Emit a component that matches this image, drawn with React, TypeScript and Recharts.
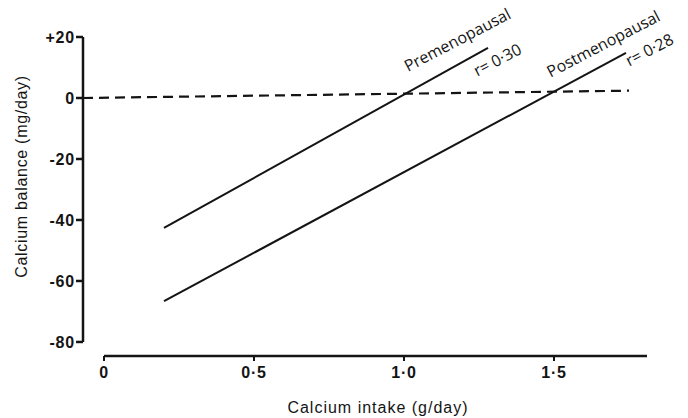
import React from "react";
import {
  LineChart,
  Line,
  XAxis,
  YAxis,
  ReferenceLine,
} from "recharts";

// calcium intake (g/day) vs balance (mg/day), regression lines
const premenoX = [0.2, 1.28];
const premenoY = [-42.6, 16.4];
const postmenoX = [0.2, 1.74];
const postmenoY = [-66.6, 14.8];
const zeroX = [-0.07, 1.75];
const zeroY = [0, 2.4];

const xTicks = [0, 0.5, 1, 1.5];
const xTickLabels = ["0", "0·5", "1·0", "1·5"];
const yTicks = [-80, -60, -40, -20, 0, 20];
const yTickLabels = ["-80", "-60", "-40", "-20", "0", "+20"];

const X_MIN = -0.07;
const X_MAX = 1.81;
const Y_MIN = -84.6;
const Y_MAX = 20;

const toPoints = (xs: number[], ys: number[]) => xs.map((x, i) => ({ x, y: ys[i] }));

const INK = "#141414";
const SANS = "Liberation Sans, Arial, sans-serif";
const tickFont = { fontSize: 16, fill: INK, fontWeight: 700, fontFamily: SANS, letterSpacing: 0.8 };
const noteFont = { fontSize: 16, fill: INK, fontFamily: "Open Sans, sans-serif" };
const titleFont = { fontSize: 16, fill: INK, fontFamily: SANS };

function endLabel(name: string, r: string, nameOff: [number, number], rOff: [number, number], last: number) {
  return (props: any) => {
    const { x, y, index } = props;
    if (index !== last) return <g />;
    const nx = x + nameOff[0];
    const ny = y + nameOff[1];
    const rx = x + rOff[0];
    const ry = y + rOff[1];
    return (
      <g>
        <text x={nx} y={ny} textAnchor="middle" transform={`rotate(-27.5 ${nx} ${ny})`} {...noteFont}>
          {name}
        </text>
        <text x={rx} y={ry} textAnchor="middle" transform={`rotate(-27.5 ${rx} ${ry})`} {...noteFont}>
          {r}
        </text>
      </g>
    );
  };
}

const xTitle = (p: any) => {
  const vb = p.viewBox;
  const cx = vb.x + vb.width / 2 + 13;
  const by = vb.y + vb.height + 27;
  return (
    <text x={cx} y={by} textAnchor="middle" letterSpacing={1} {...titleFont}>
      Calcium intake (g/day)
    </text>
  );
};

const yTitle = (p: any) => {
  const vb = p.viewBox;
  const cx = vb.x - 11;
  const cy = vb.y + vb.height / 2 - 20;
  return (
    <text x={cx} y={cy} textAnchor="middle" letterSpacing={0.7} transform={`rotate(-90 ${cx} ${cy})`} {...titleFont}>
      Calcium balance (mg/day)
    </text>
  );
};

export default function App() {
  return (
    <div style={{ position: "fixed", left: 0, top: 0, background: "#fff" }}>
      <LineChart width={688} height={418} margin={{ top: 37, right: 41, left: 38, bottom: 32 }}>
        <XAxis
          type="number"
          dataKey="x"
          domain={[X_MIN, X_MAX]}
          allowDataOverflow
          ticks={xTicks}
          tickFormatter={(v: number) => xTickLabels[xTicks.indexOf(v)]}
          axisLine={false}
          tickSize={5}
          tickMargin={6}
          tickLine={{ stroke: INK, strokeWidth: 2 }}
          tick={tickFont}
          height={30}
          label={{ content: xTitle }}
        />
        <YAxis
          type="number"
          dataKey="y"
          domain={[Y_MIN, Y_MAX]}
          allowDataOverflow
          ticks={yTicks}
          tickFormatter={(v: number) => yTickLabels[yTicks.indexOf(v)]}
          axisLine={false}
          tickSize={7}
          tickMargin={1}
          tickLine={{ stroke: INK, strokeWidth: 2.5 }}
          tick={tickFont}
          width={45}
          label={{ content: yTitle }}
        />
        <ReferenceLine
          segment={[{ x: X_MIN, y: -80 }, { x: X_MIN, y: Y_MAX }]}
          stroke={INK}
          strokeWidth={2.5}
          ifOverflow="visible"
        />
        <ReferenceLine
          segment={[{ x: 0, y: Y_MIN }, { x: X_MAX, y: Y_MIN }]}
          stroke={INK}
          strokeWidth={2.5}
          ifOverflow="visible"
        />
        <Line
          data={toPoints(zeroX, zeroY)}
          dataKey="y"
          stroke={INK}
          strokeWidth={2.2}
          strokeDasharray="10 6"
          dot={false}
          isAnimationActive={false}
        />
        <Line
          data={toPoints(premenoX, premenoY)}
          dataKey="y"
          stroke={INK}
          strokeWidth={2}
          dot={false}
          isAnimationActive={false}
          label={endLabel("Premenopausal", "r= 0·30", [-28, -3], [12, 17], premenoX.length - 1)}
        />
        <Line
          data={toPoints(postmenoX, postmenoY)}
          dataKey="y"
          stroke={INK}
          strokeWidth={2}
          dot={false}
          isAnimationActive={false}
          label={endLabel("Postmenopausal", "r= 0·28", [-20, -4], [26, 2], postmenoX.length - 1)}
        />
      </LineChart>
    </div>
  );
}
